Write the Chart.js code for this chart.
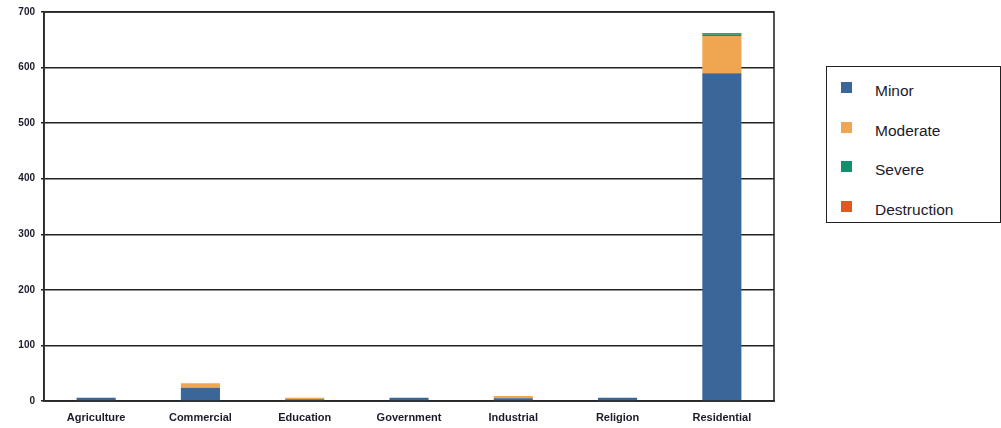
<!DOCTYPE html>
<html>
<head>
<meta charset="utf-8">
<script src="https://cdn.jsdelivr.net/npm/chart.js@4"></script>
<style>
    html, body { margin: 0; padding: 0; background: #fff; }
    body { width: 1001px; height: 428px; position: relative; overflow: hidden; font-family: "Liberation Sans", Arial, sans-serif; }
    #wrap { position: absolute; left: 0; top: 0; width: 780px; height: 428px; }
    #legend {
        position: absolute; left: 826px; top: 66px; width: 175px; height: 157px;
        border: 1.5px solid #222; box-sizing: border-box; padding-top: 12px;
    }
    .lg-item { position: relative; height: 39.5px; }
    .lg-sw { position: absolute; left: 14px; top: 3px; width: 11px; height: 11px; }
    .lg-tx { position: absolute; left: 48px; top: 3px; font-size: 15.5px; color: #1a1a2a; line-height: 18px; }
</style>
</head>
<body>
<div id="wrap"><canvas id="chart" width="780" height="428"></canvas></div>
<div id="legend"></div>
<script>
(function () {
    'use strict';

    var categories = ['Agriculture', 'Commercial', 'Education', 'Government', 'Industrial', 'Religion', 'Residential'];
    var seriesNames = ['Minor', 'Moderate', 'Severe', 'Destruction'];
    var minorValues = [6, 24, 3, 6, 5, 6, 590];
    var moderateValues = [0, 8, 3, 0, 4, 0, 67];
    var severeValues = [0, 0, 0, 0, 0, 0, 3];
    var destructionValues = [0, 0, 0, 0, 0, 0, 2];
    var yTicks = [0, 100, 200, 300, 400, 500, 600, 700];
    var colors = ['#3a6699', '#f0a550', '#12906e', '#e05a1e'];

    var allValues = [minorValues, moderateValues, severeValues, destructionValues];

    // frame around plot area
    var framePlugin = {
        id: 'frame',
        beforeDatasetsDraw: function (chart) {
            var a = chart.chartArea;
            var ctx = chart.ctx;
            ctx.save();
            ctx.strokeStyle = '#2a2a2a';
            ctx.lineWidth = 1.6;
            ctx.strokeRect(a.left, a.top, a.right - a.left, a.bottom - a.top);
            ctx.restore();
        }
    };

    var datasets = seriesNames.map(function (name, i) {
        return {
            label: name,
            data: allValues[i],
            backgroundColor: colors[i],
            borderWidth: 0,
            categoryPercentage: 1,
            barPercentage: 0.375
        };
    });

    new Chart(document.getElementById('chart').getContext('2d'), {
        type: 'bar',
        data: { labels: categories, datasets: datasets },
        plugins: [framePlugin],
        options: {
            responsive: false,
            animation: false,
            layout: { padding: { top: 12, right: 6, left: 0, bottom: 0 } },
            plugins: { legend: { display: false }, tooltip: { enabled: false } },
            scales: {
                x: {
                    stacked: true,
                    grid: { display: false },
                    border: { color: '#222', width: 1.6 },
                    ticks: {
                        color: '#1b1b2b',
                        font: { family: '"Liberation Sans", Arial, sans-serif', size: 11, weight: 'bold' },
                        padding: 2,
                        maxRotation: 0
                    },
                    afterFit: function (s) { s.height = 27; }
                },
                y: {
                    stacked: true,
                    min: 0,
                    max: 700,
                    afterBuildTicks: function (s) {
                        s.ticks = yTicks.map(function (v) { return { value: v }; });
                    },
                    grid: { color: '#222', lineWidth: 1.4, tickLength: 3 },
                    border: { color: '#222', width: 1.6 },
                    ticks: {
                        color: '#1b1b2b',
                        font: { family: '"Liberation Sans", Arial, sans-serif', size: 10, weight: 'bold' },
                        padding: 6
                    },
                    afterFit: function (s) { s.width = 44; }
                }
            }
        }
    });

    var legend = document.getElementById('legend');
    legend.innerHTML = seriesNames.map(function (name, i) {
        return '<div class="lg-item"><span class="lg-sw" style="background:' + colors[i] + '"></span>' +
            '<span class="lg-tx">' + name + '</span></div>';
    }).join('');
})();
</script>
</body>
</html>
